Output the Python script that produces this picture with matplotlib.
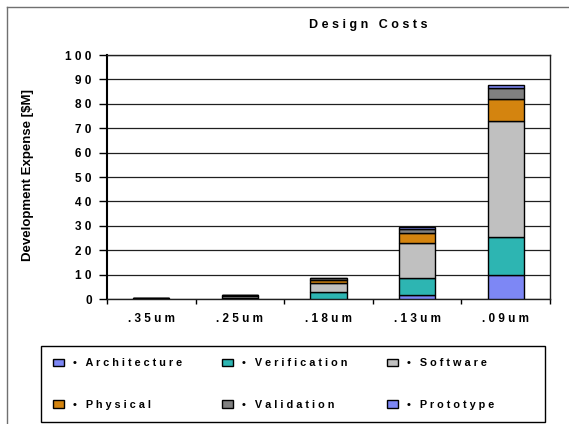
import matplotlib.pyplot as plt
from matplotlib.lines import Line2D
from matplotlib.patches import Rectangle

plt.rcParams['font.family'] = ['Liberation Sans', 'DejaVu Sans']
plt.rcParams['font.weight'] = 'bold'

nodes = ['.35um', '.25um', '.18um', '.13um', '.09um']
series = ['Architecture', 'Verification', 'Software', 'Physical', 'Validation', 'Prototype']
architecture = [0.05, 0.1, 0.2, 1.7, 10.0]
verification = [0.15, 0.5, 2.7, 6.9, 15.4]
software = [0.2, 0.6, 3.7, 14.5, 47.7]
physical = [0.1, 0.3, 1.3, 3.8, 8.9]
validation = [0.05, 0.2, 0.6, 1.7, 4.4]
prototype = [0.02, 0.1, 0.2, 0.9, 1.4]
yticks = list(range(0, 101, 10))

values = [architecture, verification, software, physical, validation, prototype]
colors = ['#7D87F5', '#2DB5B2', '#C0C0C0', '#D4840F', '#808080', '#7D87F5']

W, H = 569, 424


def spaced(s):
    # the old chart draws its labels with wide letter spacing
    return ' '.join(s)


fig = plt.figure(figsize=(W / 100, H / 100), dpi=100)
ax = fig.add_axes([107 / W, 1 - 299 / H, (550 - 107) / W, (299 - 55) / H])

x = range(len(nodes))
bottom = [0.0] * len(nodes)
bars = []
for name, vals, c in zip(series, values, colors):
    b = ax.bar(x, vals, width=0.41, bottom=bottom, color=c, edgecolor='black',
               linewidth=1, zorder=3)
    bars.append(b)
    bottom = [b0 + v for b0, v in zip(bottom, vals)]

ax.set_xlim(-0.5, len(nodes) - 0.5)
ax.set_ylim(0, 100)
ax.set_yticks(yticks)
ax.set_yticklabels([spaced(str(t)) for t in yticks], fontsize=8.5, fontweight='bold')
ax.set_xticks(list(x))
ax.set_xticklabels([spaced(n) for n in nodes], fontsize=8.5, fontweight='bold')
ax.set_xticks([i - 0.5 for i in range(len(nodes) + 1)], minor=True)
ax.tick_params(axis='x', which='major', length=0, pad=10)
ax.tick_params(axis='x', which='minor', length=3.5, width=1, direction='out')
ax.tick_params(axis='y', length=6, width=1, pad=5, direction='out')
ax.grid(axis='y', color='#202020', linewidth=0.9, zorder=0)
ax.set_axisbelow(True)
for side in ['top', 'right', 'bottom']:
    ax.spines[side].set_linewidth(1)
    ax.spines[side].set_color('#202020')
ax.spines['left'].set_linewidth(1.5)

fig.text(368 / W, 1 - 25 / H, spaced('Design') + '   ' + spaced('Costs'),
         ha='center', va='center', fontsize=9, fontweight='bold')
fig.text(28 / W, 1 - 175 / H, 'Development Expense [$M]', rotation=90,
         ha='center', va='center', fontsize=9.5, fontweight='bold')

# legend reads row by row: reorder for matplotlib's column filling
order = [0, 3, 1, 4, 2, 5]
leg = fig.legend([bars[i] for i in order], [spaced('• ' + series[i]) for i in order],
                 loc='upper left', ncol=3, bbox_to_anchor=(41 / W, 1 - 346 / H),
                 fontsize=7.8, frameon=False,
                 handlelength=1.0, handleheight=0.65, handletextpad=0.8,
                 columnspacing=3.7, labelspacing=2.9, borderpad=1.15, borderaxespad=0)
for t in leg.get_texts():
    t.set_fontweight('bold')
fig.add_artist(Rectangle((41 / W, 2 / H), (545 - 41) / W, (422 - 346) / H,
                         transform=fig.transFigure, fill=False,
                         edgecolor='black', linewidth=1))

# outer border of the chart area
fig.add_artist(Line2D([7 / W, 7 / W], [0, 1 - 7 / H], color='#707070', lw=1))
fig.add_artist(Line2D([7 / W, 1], [1 - 7 / H, 1 - 7 / H], color='#707070', lw=1))

fig.savefig('out.png', dpi=100)
